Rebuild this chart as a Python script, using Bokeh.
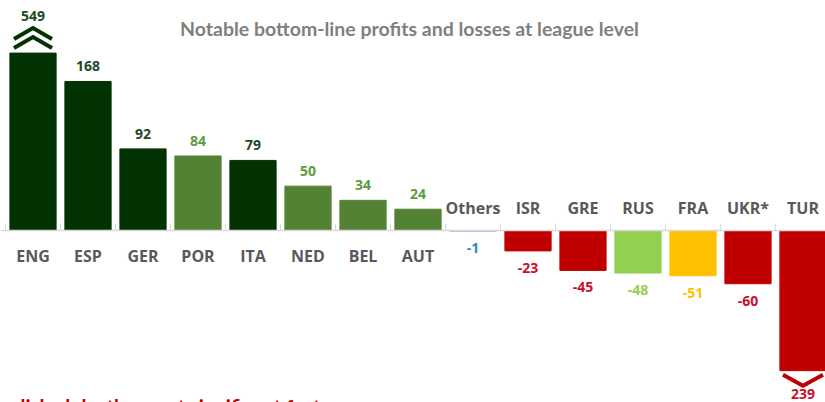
import numpy as np
from bokeh.plotting import figure
from bokeh.models import Range1d, ColumnDataSource, Label, Span
from bokeh.core.properties import value
from bokeh.embed import file_html
from bokeh.resources import INLINE

# ---------------- data ----------------
categories = ["ENG", "ESP", "GER", "POR", "ITA", "NED", "BEL", "AUT",
              "Others", "ISR", "GRE", "RUS", "FRA", "UKR*", "TUR"]
values = [549, 168, 92, 84, 79, 50, 34, 24, -1, -23, -45, -48, -51, -60, -239]
bar_colors = ["#033303", "#033303", "#033303", "#548235", "#033303", "#548235",
              "#548235", "#548235", "#9DC3E6", "#C00000", "#C00000", "#92D050",
              "#FFC000", "#C00000", "#C00000"]
label_colors = ["#1F4A1F", "#1F4A1F", "#1F4A1F", "#5E9C3E", "#1F4A1F", "#5E9C3E",
                "#5E9C3E", "#5E9C3E", "#2E86D0", "#C8102E", "#C8102E", "#92D050",
                "#FFC000", "#C8102E", "#C8102E"]
title_text = "Notable bottom-line profits and losses at league level"
footer_text = "English clubs the most significant factor"

# display caps for truncated bars (chevrons mark the break)
CAP_TOP = 200
CAP_BOTTOM = -158

W, H = 825, 402
PX_X = 55.0
PX_Y = 0.887

x = np.arange(len(categories))
vals = np.array(values, dtype=float)
disp = np.clip(vals, CAP_BOTTOM, CAP_TOP)
clipped = (vals > CAP_TOP) | (vals < CAP_BOTTOM)
val_text = [str(abs(v)) if c else str(v) for v, c in zip(values, clipped)]

lab_off = []
for v, c in zip(vals, clipped):
    if v >= 0:
        lab_off.append(-(37 if c else 15))
    else:
        lab_off.append(23 if c else 17)
cat_off = [(25 if v >= 0 else -23) for v in vals]

src = ColumnDataSource(dict(x=x, top=disp, cat=categories, col=bar_colors,
                            lcol=label_colors, vt=val_text, loff=lab_off,
                            coff=cat_off))

x0 = (0 - 32.5) / PX_X
x1 = (W - 32.5) / PX_X
y1 = 230 / PX_Y
y0 = (230 - H) / PX_Y

p = figure(width=W, height=H, output_backend="svg", toolbar_location=None,
           x_range=Range1d(x0, x1), y_range=Range1d(y0, y1),
           min_border=0, min_border_left=0, min_border_right=0,
           min_border_top=0, min_border_bottom=0)
p.axis.visible = False
p.grid.visible = False
p.outline_line_color = None
p.background_fill_color = "#FFFFFF"
p.border_fill_color = "#FFFFFF"

# zero line and between-category ticks
p.add_layout(Span(location=0, dimension="width", line_color="#D9D9D9", line_width=1.5))
bounds = np.arange(len(categories) + 1) - 0.5
p.segment(x0=bounds, y0=np.zeros_like(bounds), x1=bounds,
          y1=np.full_like(bounds, 7 / PX_Y), line_color="#D9D9D9", line_width=1)

p.vbar(x="x", top="top", bottom=0, width=0.84, color="col", source=src)

p.text(x="x", y="top", text="vt", text_color="lcol", y_offset="loff",
       text_align="center", text_baseline="middle",
       text_font=value("Open Sans"), text_font_style="bold",
       text_font_size="14px", source=src)
p.text(x="x", y=0, text="cat", text_color="#595959", y_offset="coff",
       text_align="center", text_baseline="middle",
       text_font=value("Open Sans"), text_font_style="bold",
       text_font_size="16px", source=src)

# chevrons for truncated bars
xs, ys, cs = [], [], []
for i in np.where(clipped)[0]:
    cx = x[i]
    if vals[i] > 0:
        for apex, end in ((-25, -14), (-16, -5)):
            xs.append([cx - 19 / PX_X, cx, cx + 19 / PX_X])
            ys.append([disp[i] - end / PX_Y, disp[i] - apex / PX_Y, disp[i] - end / PX_Y])
            cs.append(bar_colors[i])
    else:
        xs.append([cx - 20 / PX_X, cx, cx + 20 / PX_X])
        ys.append([disp[i] - 4 / PX_Y, disp[i] - 15 / PX_Y, disp[i] - 4 / PX_Y])
        cs.append(bar_colors[i])
p.multi_line(xs=xs, ys=ys, line_color=cs, line_width=4, line_join="miter")

# title and cut-off footer
p.add_layout(Label(x=409, y=H - 28, x_units="screen", y_units="screen",
                   text=title_text, text_align="center", text_baseline="middle",
                   text_color="#7F7F7F", text_font="Lato", text_font_style="bold",
                   text_font_size="19.5px"))
p.add_layout(Label(x=-13, y=-4, x_units="screen", y_units="screen",
                   text=footer_text, text_align="left", text_baseline="alphabetic",
                   text_color="#C00000", text_font="Lato", text_font_style="bold",
                   text_font_size="20px"))

open("out.html", "w").write(file_html(p, INLINE))
